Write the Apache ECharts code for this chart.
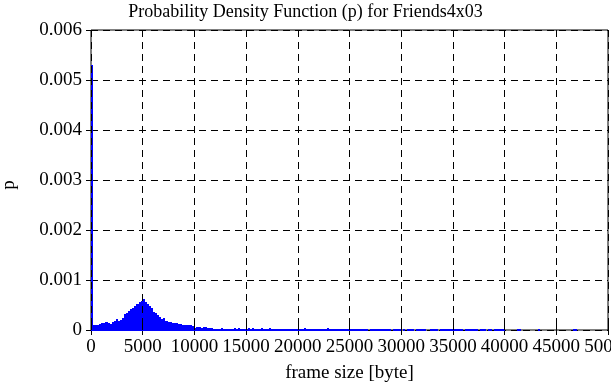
<!DOCTYPE html>
<html>
<head>
<meta charset="utf-8">
<script src="https://cdn.jsdelivr.net/npm/echarts@6/dist/echarts.min.js"></script>
<style>
html,body{margin:0;padding:0;background:#fff;}
#chart{width:611px;height:385px;}
</style>
</head>
<body>
<div id="chart"></div>
<script>
// ---- data ----
var titleText = 'Probability Density Function (p) for Friends4x03';
var xAxisName = 'frame size [byte]';
var yAxisName = 'p';
var binWidth = 200; // bytes per histogram bin
var xTickLabels = ['0','5000','10000','15000','20000','25000','30000','35000','40000','45000','50000'];
var yTickLabels = ['0','0.001','0.002','0.003','0.004','0.005','0.006'];
// probability density per bin (bin i starts at i*binWidth)
var density = [
  0.0053,
  0.00011,0.00011,0.00011,0.00013,0.00015,0.00015,0.00017,0.00015,0.00013,0.00017,
  0.00019,0.00023,0.00019,0.00021,0.00025,0.00033,0.00035,0.00039,0.00043,0.00045,
  0.00049,0.00053,0.00056,0.00059,0.00062,0.00057,0.00052,0.00048,0.00044,0.00037,
  0.00035,0.00031,0.00026,0.00023,0.00024,0.00019,0.00016,0.00016,0.00015,0.00014,
  0.00014,0.00012,0.00012,0.00010,0.00010,0.00011,0.00010,0.00010,0.00008,0.00005,
  0.00006,0.00006,0.00005,0.00006,0.00006,0.00005,0.00004,0.00005,0.00003,0.00003,
  0.00003,0.00003,0.00005,0.00003,0.00003,0.00003,0.00002,0.00003,0.00005,0.00003,
  0.00005,0.00003,0.00003,0.00002,0.00003,0.00005,0.00003,0.00005,0.00003,0.00002,
  0.00003,0.00005,0.00003,0.00002,0.00003,0.00005,0.00002,0.00003,0.00002,0.00002,
  0.00002,0.00003,0.00002,0.00002,0.00002,0.00002,0.00003,0.00002,0.00002,0.00002,
  0.00002,0.00002,0.00004,0.00002,0.00002,0.00002,0.00002,0.00002,0.00002,0.00002,
  0.00002,0.00002,0.00002,0.00004,0.00002,0.00002,0.00002,0.00002,0.00002,0.00002,
  0.00002,0.00002,0.00002,0.00002,0.00002,0.00002,0.00002,0.00002,0.00002,0.00002,
  0.00002,0.00002,0.00002,0,0.00002,0.00002,0.00002,0.00002,0.00002,0.00002,
  0.00002,0.00002,0.00002,0.00002,0,0.00002,0.00002,0.00002,0.00002,0,
  0.00002,0,0.00002,0.00002,0.00002,0,0.00002,0.00002,0.00002,0.00002,
  0.00002,0,0,0.00002,0.00002,0.00002,0.00002,0,0.00002,0.00002,
  0.00002,0.00002,0.00002,0.00002,0.00002,0.00002,0.00002,0.00002,0.00002,0,
  0.00002,0.00002,0.00002,0.00002,0.00002,0.00002,0,0.00002,0.00002,0.00002,
  0,0.00002,0.00002,0,0.00002,0.00002,0.00002,0.00002,0.00002,0,
  0,0,0,0,0,0.00002,0.00002,0,0,0,
  0,0,0,0,0,0.00002,0,0,0,0,
  0,0,0,0,0,0,0,0,0,0,
  0,0,0.00002,0.00002,0,0,0,0,0,0,
  0,0,0,0,0,0,0,0,0
];

// ---- build ----
var bins = density.map(function(v, i){ return [i * binWidth, v]; });
var FONT = 'Liberation Serif';
var xMin = 0, xMax = 50000, xInt = 5000;
var yMin = 0, yMax = 0.006, yInt = 0.001;

function xFmt(v){ var i = Math.round(v / xInt); return xTickLabels[i] !== undefined ? xTickLabels[i] : ''; }
function yFmt(v){ var i = Math.round(v / yInt); return yTickLabels[i] !== undefined ? yTickLabels[i] : ''; }

var chart = echarts.init(document.getElementById('chart'), null, {renderer:'canvas'});
var gridLine = {show:true, lineStyle:{color:'#000', width:1, type:[7,5]}};
var option = {
  animation:false,
  backgroundColor:'#fff',
  title:{text:titleText, left:'center', top:-2,
    textStyle:{fontFamily:FONT, fontSize:18, fontWeight:'normal', color:'#000'}},
  grid:{left:91, right:3, top:30, bottom:55, containLabel:false, outerBoundsMode:'none',
    show:true, borderColor:'#000', borderWidth:1, backgroundColor:'transparent'},
  xAxis:[{
    type:'value', min:xMin, max:xMax, interval:xInt, position:'bottom',
    name:xAxisName, nameLocation:'middle', nameGap:34,
    nameTextStyle:{fontFamily:FONT, fontSize:19, color:'#000'},
    axisLine:{show:false},
    axisTick:{show:true, inside:true, length:5, lineStyle:{color:'#000'}},
    axisLabel:{fontFamily:FONT, fontSize:19, color:'#000', margin:8, formatter:xFmt,
      showMinLabel:true, showMaxLabel:true, hideOverlap:false},
    splitLine:gridLine, z:5
  },{
    type:'value', min:xMin, max:xMax, interval:xInt, position:'top',
    axisLine:{show:false}, axisLabel:{show:false},
    axisTick:{show:true, inside:true, length:5, lineStyle:{color:'#000'}},
    splitLine:{show:false}
  }],
  yAxis:[{
    type:'value', min:yMin, max:yMax, interval:yInt, position:'left',
    name:yAxisName, nameLocation:'middle', nameGap:72, nameRotate:90,
    nameTextStyle:{fontFamily:FONT, fontSize:19, color:'#000', padding:[0,0,0,-10]},
    axisLine:{show:false},
    axisTick:{show:true, inside:true, length:5, lineStyle:{color:'#000'}},
    axisLabel:{fontFamily:FONT, fontSize:19, color:'#000', margin:9, formatter:yFmt, padding:[4,0,0,0]},
    splitLine:gridLine
  },{
    type:'value', min:yMin, max:yMax, interval:yInt, position:'right',
    axisLine:{show:false}, axisLabel:{show:false},
    axisTick:{show:true, inside:true, length:5, lineStyle:{color:'#000'}},
    splitLine:{show:false}
  }],
  series:[{
    type:'custom',
    xAxisIndex:0, yAxisIndex:0,
    data:bins,
    encode:{x:0, y:1},
    renderItem:function(params, api){
      var x0 = api.value(0), v = api.value(1);
      if (!v) return null;
      var p0 = api.coord([x0, v]);
      var p1 = api.coord([x0 + binWidth, 0]);
      var xa = Math.round(p0[0]), xb = Math.max(Math.round(p1[0]), xa + 1);
      var ya = Math.round(p0[1]), yb = Math.round(p1[1]) + 1;
      return {type:'rect',
        shape:{x:xa, y:ya, width:xb - xa, height:Math.max(yb - ya, 1)},
        style:{fill:'#0000ff'}};
    },
    z:2
  }]
};
chart.setOption(option);
</script>
</body>
</html>
